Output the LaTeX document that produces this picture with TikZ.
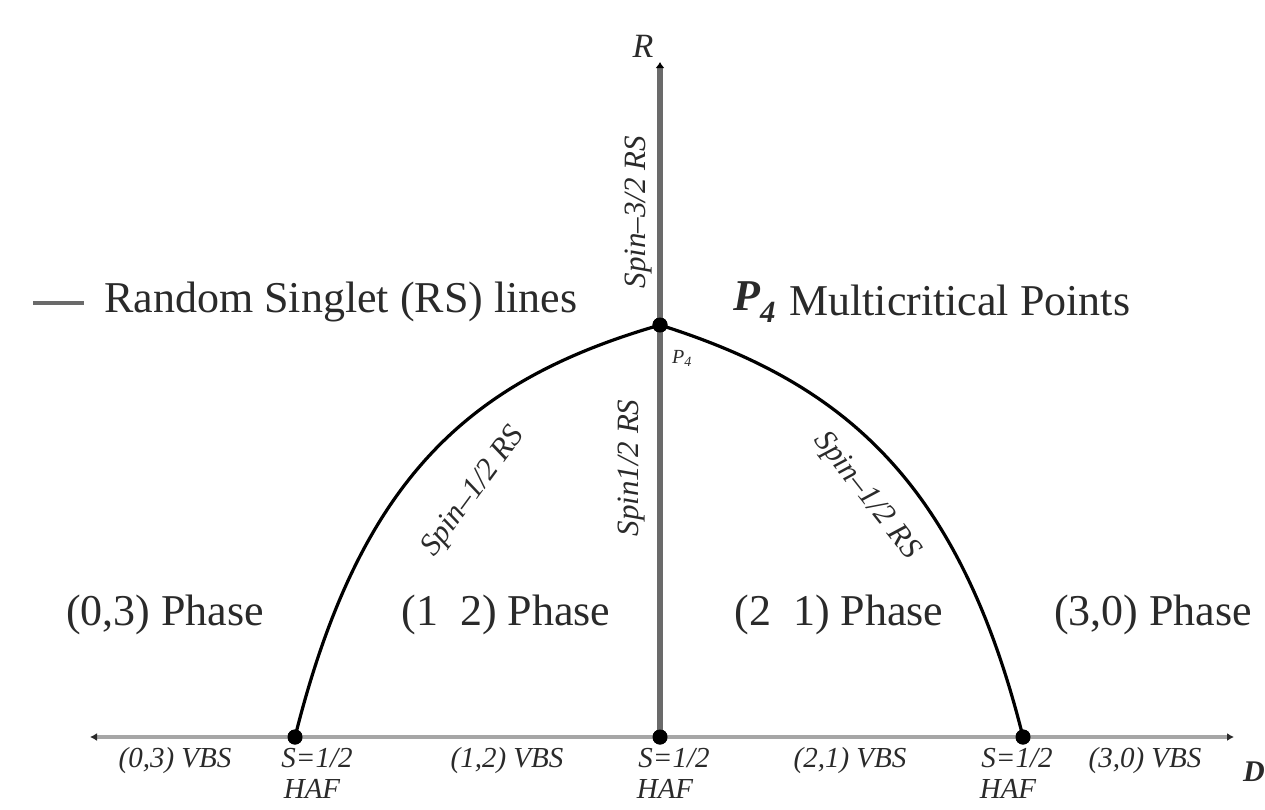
\documentclass[tikz,border=0pt]{standalone}
\usepackage{fontspec}
\setmainfont{Liberation Serif}
\usetikzlibrary{arrows.meta}
\definecolor{vgray}{HTML}{6A6A6A}
\definecolor{hgray}{HTML}{A6A6A6}
\definecolor{txt}{HTML}{2A2A2A}
\begin{document}
\begin{tikzpicture}[x=1pt,y=-1pt,
  curve/.style={line width=3.2pt, black},
  haxis/.style={line width=4.5pt, hgray, {Latex[length=7pt,width=8pt,color=txt]}-{Latex[length=7pt,width=8pt,color=txt]}},
  vaxis/.style={line width=6.5pt, vgray, -{Latex[length=6pt,width=9pt,color=black]}},
  dot/.style={circle, fill=black, inner sep=0pt, minimum size=15pt},
  phase/.style={font=\fontsize{44}{50}\selectfont, text=txt, inner sep=0pt},
  legend/.style={font=\fontsize{44}{50}\selectfont, text=txt, inner sep=0pt, anchor=west},
  rs/.style={font=\fontsize{31}{36}\selectfont\itshape, text=txt, inner sep=0pt},
  small/.style={font=\fontsize{29}{34}\selectfont\itshape, text=txt, inner sep=0pt, anchor=base}
]
\useasboundingbox (0,0) rectangle (1265,809);
\fill[white] (0,0) rectangle (1265,809);

% coordinates
\coordinate (dl) at (90,737);
\coordinate (dr) at (1234,737);
\coordinate (rtop) at (660,62);

% dots (positions)
\node[dot] (bl) at (295,737) {};
\node[dot] (bc) at (660,737) {};
\node[dot] (br) at (1023,737) {};
\node[dot] (p4) at (660,325) {};

% axes
\draw[haxis] (dl) -- (dr);
\draw[vaxis] (bc.center) -- (rtop);

% RS curves
\draw[curve] (bl.center) .. controls (360,477) and (470,380) .. (p4.center);
\draw[curve] (p4.center) .. controls (840,382) and (958,477) .. (br.center);

% dots on top
\fill[black] (bl) circle (7.5pt);
\fill[black] (bc) circle (7.5pt);
\fill[black] (br) circle (7.5pt);
\fill[black] (p4) circle (7.5pt);

% axis labels
\node[font=\fontsize{34}{40}\selectfont\itshape, text=txt, inner sep=0pt] (lR) at (643,46) {R};
\node[font=\fontsize{30}{34}\selectfont\bfseries\itshape, text=txt, inner sep=0pt, anchor=east] (lD) at (1265,772) {D};

% RS line labels
\node[rs, rotate=90] (s32) at (639,212) {Spin–3/2 RS};
\node[rs, rotate=90] (s12v) at (632,468) {Spin1/2 RS};
\node[rs, rotate=53.6] (s12l) at (474,492) {Spin–1/2 RS};
\node[rs, rotate=-51.8] (s12r) at (866,496) {Spin–1/2 RS};
\node[font=\fontsize{20}{24}\selectfont\itshape, text=txt, inner sep=0pt] (lp4) at (682,358) {P\textsubscript{4}};

% legend
\coordinate (lgA) at (33,303);
\coordinate (lgB) at (84,303);
\draw[line width=4pt, vgray] (lgA) -- (lgB);
\node[legend] (lg1) at (104,302) {Random Singlet (RS) lines};
\node[legend, font=\fontsize{44}{50}\selectfont\bfseries\itshape] (lg2p) at (733,302) {P\textsubscript{4}};
\node[legend] (lg2) at (789,300) {Multicritical Points};

% phases
\node[phase] (ph03) at (165,615) {(0,3) Phase};
\node[phase] (ph12) at (506,615) {(1\ \ 2) Phase};
\node[phase] (ph21) at (839,615) {(2\ \ 1) Phase};
\node[phase] (ph30) at (1153,615) {(3,0) Phase};

% bottom labels
\node[small] (v03) at (175,767) {(0,3) VBS};
\node[small] (v12) at (507,767) {(1,2) VBS};
\node[small] (v21) at (850,767) {(2,1) VBS};
\node[small] (v30) at (1145,767) {(3,0) VBS};
\node[small] (s1) at (317,767) {S=1/2};
\node[small] (h1) at (312,798) {HAF};
\node[small] (s2) at (674,767) {S=1/2};
\node[small] (h2) at (665,798) {HAF};
\node[small] (s3) at (1017,767) {S=1/2};
\node[small] (h3) at (1008,798) {HAF};
\end{tikzpicture}
\end{document}
